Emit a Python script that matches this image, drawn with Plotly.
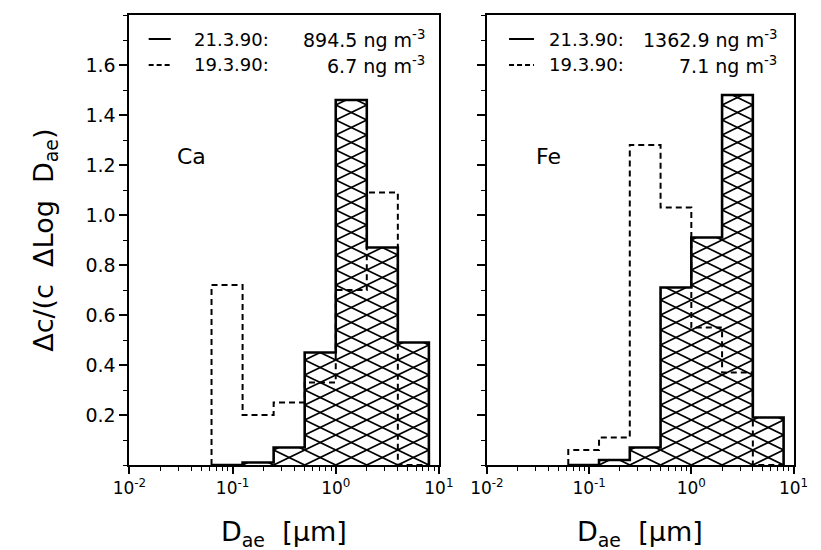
import math
import plotly.graph_objects as go

# ---------------- data ----------------
bin_edges = [0.0625, 0.125, 0.25, 0.5, 1, 2, 4, 8]          # D_ae [um]
ca_2103 = [0.0, 0.01, 0.07, 0.45, 1.46, 0.87, 0.49]          # solid, hatched
ca_1903 = [0.72, 0.20, 0.25, 0.33, 0.70, 1.09, 0.0]          # dashed
fe_2103 = [0.0, 0.02, 0.07, 0.71, 0.91, 1.48, 0.19]          # solid, hatched
fe_1903 = [0.06, 0.11, 1.28, 1.03, 0.55, 0.37, 0.0]          # dashed

x_tickvals = [0.01, 0.1, 1, 10]
x_ticktext = ["10<sup>-2</sup>", "10<sup>-1</sup>", "10<sup>0</sup>", "10<sup>1</sup>"]
y_tickvals = [0.2, 0.4, 0.6, 0.8, 1.0, 1.2, 1.4, 1.6]
y_ticktext = ["0.2", "0.4", "0.6", "0.8", "1.0", "1.2", "1.4", "1.6"]

panel_names = ["Ca", "Fe"]
legend_dates = ["21.3.90:", "19.3.90:"]
legend_vals = [["894.5 ng m<sup>-3</sup>", "6.7 ng m<sup>-3</sup>"],
               ["1362.9 ng m<sup>-3</sup>", "7.1 ng m<sup>-3</sup>"]]

FONT = "DejaVu Sans"
W, H = 821, 550
HATCH_STEP = 0.06


def px(x):
    return x / W


def py(y):
    return 1 - y / H


def step_xy(edges, vals):
    xs, ys = [edges[0]], [0]
    for i, v in enumerate(vals):
        xs += [edges[i], edges[i + 1]]
        ys += [v, v]
    xs.append(edges[-1])
    ys.append(0)
    return xs, ys


def hatch_xy(edges, vals, d):
    xs, ys = [], []
    for i, h in enumerate(vals):
        if h <= 0:
            continue
        L, R = math.log10(edges[i]), math.log10(edges[i + 1])
        k = 0
        while k * d < h:
            y0, y1 = k * d, (k + 1) * d
            if y1 <= h:
                xs += [10 ** L, 10 ** R, None]
                ys += [y0, y1, None]
                xs += [10 ** L, 10 ** R, None]
                ys += [y1, y0, None]
            else:
                t = (h - y0) / d
                xs += [10 ** L, 10 ** (L + t * (R - L)), None]
                ys += [y0, h, None]
                t2 = (y1 - h) / d
                xs += [10 ** (L + t2 * (R - L)), 10 ** R, None]
                ys += [h, y0, None]
            k += 1
    return xs, ys


fig = go.Figure()

panels = [(ca_2103, ca_1903, "x", "y"), (fe_2103, fe_1903, "x2", "y2")]
for solid, dashed, xa, ya in panels:
    hx, hy = hatch_xy(bin_edges, solid, HATCH_STEP)
    fig.add_trace(go.Scatter(x=hx, y=hy, mode="lines", xaxis=xa, yaxis=ya,
                             line=dict(color="black", width=1.8),
                             showlegend=False, hoverinfo="skip"))
    dx, dy = step_xy(bin_edges, dashed)
    fig.add_trace(go.Scatter(x=dx, y=dy, mode="lines", xaxis=xa, yaxis=ya,
                             line=dict(color="black", width=2, dash="6px,4px"),
                             showlegend=False))
    sx, sy = step_xy(bin_edges, solid)
    fig.add_trace(go.Scatter(x=sx, y=sy, mode="lines", xaxis=xa, yaxis=ya,
                             line=dict(color="black", width=2.6),
                             showlegend=False))

minor_x = [m * 10 ** e for e in range(-2, 1) for m in range(2, 10)]

common_x = dict(type="log", range=[-2, 1], tickmode="array", tickvals=x_tickvals,
                ticktext=x_ticktext, ticks="outside", ticklen=7, tickwidth=1.5,
                tickcolor="black", showline=True, linecolor="black", linewidth=2,
                mirror=True, showgrid=False, zeroline=False,
                tickfont=dict(family=FONT, size=17, color="black"),
                minor=dict(tickvals=minor_x, ticks="outside", ticklen=4,
                           tickwidth=1.2, tickcolor="black", showgrid=False))
common_y = dict(range=[0, 1.8], tickmode="array", tickvals=y_tickvals,
                ticks="outside", ticklen=8, tickwidth=1.5, tickcolor="black",
                showline=True, linecolor="black", linewidth=2, mirror=True,
                showgrid=False, zeroline=False,
                tickfont=dict(family=FONT, size=19, color="black"),
                minor=dict(dtick=0.1, tick0=0, ticks="outside", ticklen=4,
                           tickwidth=1.2, tickcolor="black", showgrid=False))

fig.update_layout(
    width=W, height=H, margin=dict(l=0, r=0, t=0, b=0),
    paper_bgcolor="white", plot_bgcolor="white", showlegend=False,
    xaxis=dict(common_x, domain=[px(117), px(439)], anchor="y"),
    yaxis=dict(common_y, domain=[py(465), py(15)], anchor="x",
               ticktext=y_ticktext),
    xaxis2=dict(common_x, domain=[px(489), px(808)], anchor="y2"),
    yaxis2=dict(common_y, domain=[py(465), py(15)], anchor="x2",
                showticklabels=False),
)

ann = []
shapes = []
panel_geo = [dict(l0=137, l1=160, date_x=182, val_x=427, name_x=182, title_x=278),
             dict(l0=512, l1=538, date_x=552, val_x=793, name_x=553, title_x=648)]
row_y = [39, 65]
for p, g in enumerate(panel_geo):
    for r in range(2):
        ann.append(dict(x=px(g["date_x"]), y=py(row_y[r]), xref="paper", yref="paper",
                        text=legend_dates[r], showarrow=False, xanchor="left",
                        yanchor="middle", font=dict(family=FONT, size=18, color="black")))
        ann.append(dict(x=px(g["val_x"]), y=py(row_y[r]), xref="paper", yref="paper",
                        text=legend_vals[p][r], showarrow=False, xanchor="right",
                        yanchor="middle", font=dict(family=FONT, size=19, color="black")))
        shapes.append(dict(type="line", xref="paper", yref="paper",
                           x0=px(g["l0"]), x1=px(g["l1"]), y0=py(row_y[r]), y1=py(row_y[r]),
                           line=dict(color="black", width=2,
                                     dash="solid" if r == 0 else "5px,3px")))
    ann.append(dict(x=px(g["name_x"]), y=py(157), xref="paper", yref="paper",
                    text=panel_names[p], showarrow=False, xanchor="center",
                    yanchor="middle", font=dict(family=FONT, size=22, color="black")))
    ann.append(dict(x=px(g["title_x"]), y=py(533), xref="paper", yref="paper",
                    text="D<sub>ae</sub>  [μm]", showarrow=False, xanchor="center",
                    yanchor="middle", font=dict(family=FONT, size=27, color="black")))

ann.append(dict(x=px(30), y=py(240), xref="paper", yref="paper",
                text="Δc/(c  ΔLog  D<sub>ae</sub>)", showarrow=False, textangle=-90,
                xanchor="center", yanchor="middle",
                font=dict(family=FONT, size=27, color="black")))

fig.update_layout(annotations=ann, shapes=shapes)
fig.write_html("out.html")
